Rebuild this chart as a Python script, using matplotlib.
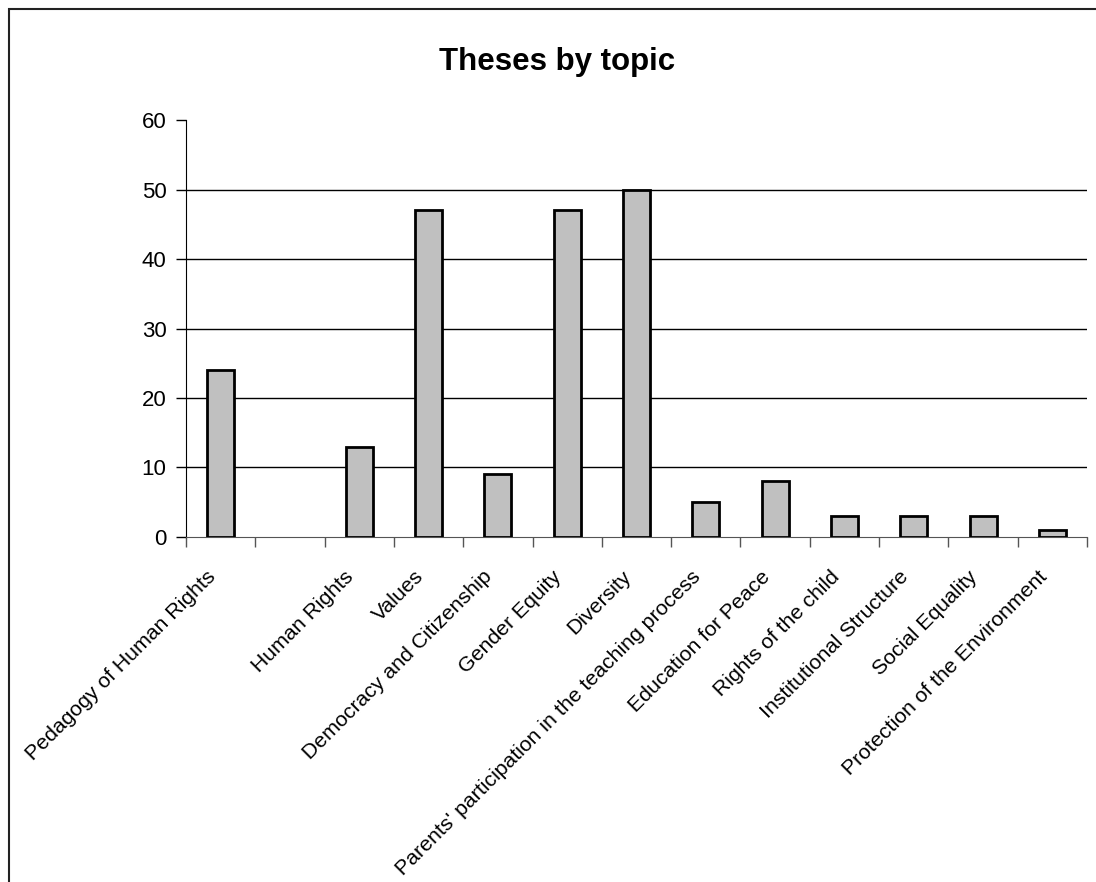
import matplotlib.pyplot as plt
import matplotlib.patches as patches
import numpy as np

plt.rcParams['font.family'] = ['Liberation Sans', 'DejaVu Sans']

topics = ["Pedagogy of Human Rights", "", "Human Rights", "Values",
          "Democracy and Citizenship", "Gender Equity", "Diversity",
          "Parents' participation in the teaching process", "Education for Peace",
          "Rights of the child", "Institutional Structure", "Social Equality",
          "Protection of the Environment"]
# second slot has no value
theses = [24, np.nan, 13, 47, 9, 47, 50, 5, 8, 3, 3, 3, 1]

fig = plt.figure(figsize=(10.96, 8.82), dpi=100)
ax = fig.add_axes([0.1697, 0.3912, 0.8221, 0.4727])

x = np.arange(len(topics))
ax.bar(x, theses, width=0.39, color='#c0c0c0', edgecolor='black', linewidth=2, zorder=3)

ax.set_xlim(-0.5, len(topics) - 0.5)
ax.set_ylim(0, 60)
ax.set_yticks([0, 10, 20, 30, 40, 50, 60])
ax.tick_params(axis='y', labelsize=16, length=7, width=1, direction='out', pad=7)
for v in [10, 20, 30, 40, 50]:
    ax.axhline(v, color='black', linewidth=1, zorder=1)

# ticks sit between categories, labels at centres
ax.set_xticks(np.arange(len(topics) + 1) - 0.5)
ax.set_xticklabels([])
ax.tick_params(axis='x', length=7, width=1, color='#555555')
for i, t in enumerate(topics):
    ax.text(i - 0.12, -5.3, t, rotation=45, ha='right', va='center',
            rotation_mode='anchor', fontsize=15.3)

for s in ['top', 'right']:
    ax.spines[s].set_visible(False)
ax.spines['left'].set_color('black')
ax.spines['bottom'].set_color('#555555')

fig.text(0.508, 0.93, "Theses by topic", ha='center', va='center',
         fontsize=22.5, fontweight='bold')

# border of the chart area
fig.add_artist(patches.Rectangle((8.5 / 1096, -0.1), 1.2, 1.1 - 8.5 / 882,
                                 transform=fig.transFigure, fill=False,
                                 edgecolor='#222222', linewidth=1.5))

fig.savefig('out.png', dpi=100)
